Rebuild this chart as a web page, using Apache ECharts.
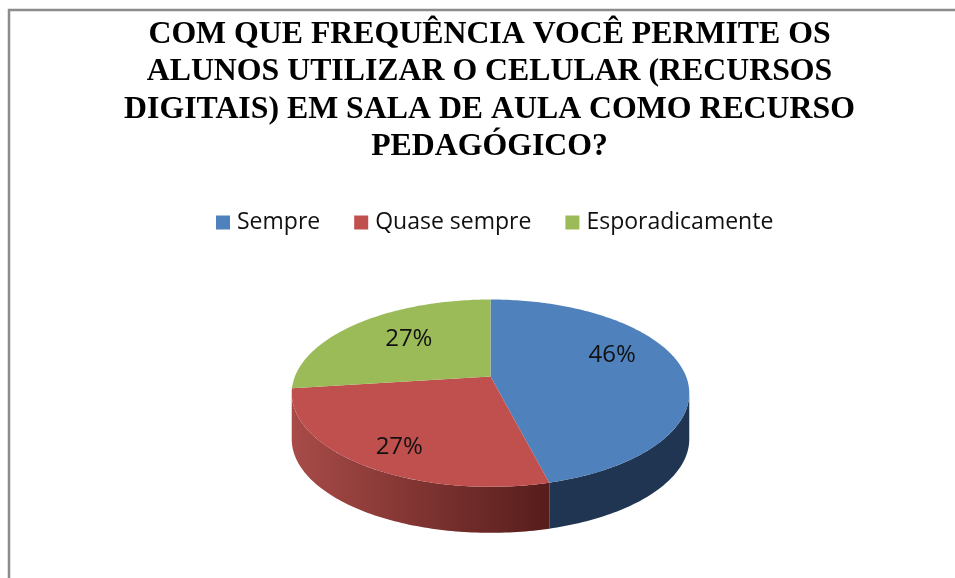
<!DOCTYPE html>
<html>
<head>
<meta charset="utf-8">
<title>Frequência</title>
<style>
    html, body { margin: 0; padding: 0; background: #fff; }
    #main { width: 955px; height: 578px; }
</style>
<script src="https://cdn.jsdelivr.net/npm/echarts@6/dist/echarts.min.js"></script>
</head>
<body>
<div id="main"></div>
<script>
var chartTitle = 'COM QUE FREQUÊNCIA VOCÊ PERMITE OS\nALUNOS UTILIZAR O CELULAR (RECURSOS\nDIGITAIS) EM SALA DE AULA COMO RECURSO\nPEDAGÓGICO?';
var categories = ['Sempre', 'Quase sempre', 'Esporadicamente'];
var values = [46, 27, 27];

var colors = ['#4f81bd', '#c0504d', '#9bbb59'];
// side wall gradient, left to right
var wallColors = [['#1f3552', '#1f3552'], ['#a84b48', '#561d1b'], ['#6f8a3f', '#6f8a3f']];
// Excel puts the labels a bit off the radial line
var labelShift = [[2, -14], [-10, 15], [1, -4]];

// tilted disc with perspective, so the apex is not the middle of the ellipse
var apexX = 490.5, apexY = 376.5, radiusX = 195.6, radiusY = 90.7, persp = 0.178, depth = 46;
var wallFrom = Math.acos(-persp) * 180 / Math.PI, wallTo = 360 - wallFrom;

function project(deg) {
    var t = deg * Math.PI / 180;
    var w = 1 + persp * Math.cos(t);
    return [apexX + radiusX * Math.sin(t) / w, apexY - radiusY * Math.cos(t) / w];
}

function arcPoints(a, b) {
    var pts = [];
    var n = Math.max(2, Math.ceil(Math.abs(b - a)));
    for (var i = 0; i <= n; i++) {
        pts.push(project(a + (b - a) * i / n));
    }
    return pts;
}

var total = values.reduce(function (s, v) { return s + v; }, 0);

function sliceSeries(name, idx) {
    var before = values.slice(0, idx).reduce(function (s, v) { return s + v; }, 0);
    return {
        type: 'custom',
        name: name,
        coordinateSystem: 'none',
        silent: true,
        data: [values[idx]],
        renderItem: function (params, api) {
            var start = before / total * 360;
            var end = start + api.value(0) / total * 360;
            var children = [];

            var a = Math.max(start, wallFrom), b = Math.min(end, wallTo);
            if (b > a) {
                var rim = arcPoints(a, b);
                var low = rim.map(function (p) { return [p[0], p[1] + depth]; }).reverse();
                children.push({
                    type: 'polygon',
                    shape: { points: rim.concat(low) },
                    style: {
                        fill: new echarts.graphic.LinearGradient(0, 0, 1, 0, [
                            { offset: 0, color: wallColors[idx][0] },
                            { offset: 1, color: wallColors[idx][1] }
                        ])
                    }
                });
            }

            children.push({
                type: 'polygon',
                shape: { points: [[apexX, apexY]].concat(arcPoints(start, end)) },
                style: { fill: colors[idx] }
            });

            var mid = project((start + end) / 2);
            children.push({
                type: 'text',
                x: apexX + (mid[0] - apexX) * 0.63 + labelShift[idx][0],
                y: apexY + (mid[1] - apexY) * 0.63 + labelShift[idx][1],
                style: {
                    text: Math.round(api.value(0) / total * 100) + '%',
                    fill: '#111',
                    font: '24px "Open Sans"',
                    align: 'center',
                    verticalAlign: 'middle'
                }
            });
            return { type: 'group', children: children };
        }
    };
}

var myChart = echarts.init(document.getElementById('main'));
var option = {
    animation: false,
    backgroundColor: '#fff',
    color: colors,
    title: {
        text: chartTitle,
        left: 484.5,
        top: 11,
        textAlign: 'center',
        textStyle: {
            fontFamily: 'Liberation Serif',
            fontWeight: 'bold',
            fontSize: 31.8,
            lineHeight: 37.5,
            color: '#000'
        }
    },
    legend: {
        data: categories,
        left: 211,
        top: 206,
        icon: 'rect',
        itemWidth: 14,
        itemHeight: 14,
        itemGap: 34,
        textStyle: {
            fontFamily: 'Open Sans',
            fontSize: 23,
            color: '#111',
            padding: [0, 0, 0, 2]
        }
    },
    graphic: [{
        // frame runs off the right and bottom of the picture
        type: 'rect',
        shape: { x: 9, y: 10, width: 1000, height: 700 },
        style: { fill: 'none', stroke: '#8c8c8c', lineWidth: 2.5 }
    }],
    series: categories.map(sliceSeries)
};

option && myChart.setOption(option);
</script>
</body>
</html>
